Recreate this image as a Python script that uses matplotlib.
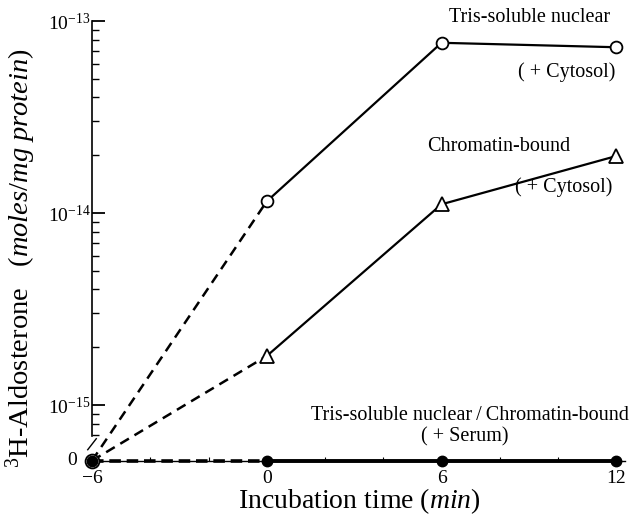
import numpy as np
import matplotlib
matplotlib.use("Agg")
import matplotlib.pyplot as plt
from matplotlib.ticker import FixedLocator, NullFormatter

plt.rcParams["font.family"] = ["Liberation Serif", "DejaVu Serif"]
plt.rcParams["mathtext.fontset"] = "custom"
plt.rcParams["mathtext.rm"] = "Liberation Serif"
plt.rcParams["mathtext.it"] = "Liberation Serif:italic"

# Incubation time (min) and bound 3H-aldosterone (moles/mg protein)
time_min = [-6, 0, 6, 12]
tris_cytosol = [0.0, 1.15e-14, 7.7e-14, 7.3e-14]
chromatin_cytosol = [0.0, 1.8e-15, 1.11e-14, 1.98e-14]
serum_both = [0.0, 0.0, 0.0, 0.0]

x_ticks = [-6, 0, 6, 12]
x_tick_labels = ["\u22126", "0", "6", "12"]
y_major = [1e-15, 1e-14, 1e-13]
y_major_labels = [r"$10^{-15}$", r"$10^{-14}$", r"$10^{-13}$"]

# Log axis with a break: zero sits a little below the lowest decade
ZERO_POS = -15.29


def fwd(y):
    y = np.asarray(y, dtype=float)
    return np.log10(np.maximum(y, 10.0 ** ZERO_POS))


def inv(v):
    return 10.0 ** np.asarray(v, dtype=float)


fig = plt.figure(figsize=(6.37, 5.15), dpi=100)
ax = fig.add_axes([92 / 637, 1 - 460.7 / 515, 533 / 637, 439.7 / 515])
ax.set_yscale("function", functions=(fwd, inv))
ax.set_xlim(-6, 12.3)
ax.set_ylim(0, 1e-13)

# Spines
for side in ("top", "right"):
    ax.spines[side].set_visible(False)
ax.spines["left"].set_bounds(6.9e-16, 1e-13)
ax.spines["left"].set_linewidth(1.2)
ax.spines["bottom"].set_linewidth(1.0)

# Ticks
ax.yaxis.set_major_locator(FixedLocator(y_major))
ax.set_yticklabels(y_major_labels)
minor = [k * 10.0 ** d for d in (-16, -15, -14) for k in range(2, 10)]
minor = [m for m in minor if 6.9e-16 < m < 1e-13]
ax.yaxis.set_minor_locator(FixedLocator(minor))
ax.yaxis.set_minor_formatter(NullFormatter())
ax.tick_params(axis="y", which="major", direction="in", length=9, width=1.3,
               labelsize=14, pad=1)
ax.tick_params(axis="y", which="minor", direction="in", length=5, width=1.0)

ax.set_xticks(x_ticks)
ax.set_xticklabels(x_tick_labels)
ax.xaxis.set_minor_locator(FixedLocator([-4, -2, 2, 4, 8, 10]))
ax.tick_params(axis="x", which="major", direction="in", length=0, labelsize=14, pad=7)
ax.tick_params(axis="x", which="minor", direction="in", length=3, width=0.8)

# Axis break mark on the y axis
ax.plot([-0.008, 0.008], [0.025, 0.05], transform=ax.transAxes, color="black",
        lw=1.0, clip_on=False)

# Serum series: dashed to the first sample, then solid
ax.plot(time_min[:2], serum_both[:2], color="black", lw=2.6,
        dashes=(3.2, 1.6), clip_on=False, zorder=3)
ax.plot(time_min[1:], serum_both[1:], color="black", lw=2.8,
        clip_on=False, zorder=3)
ax.plot(time_min, serum_both, "o", color="black", ms=7.5, clip_on=False, zorder=5)

# Cytosol series: dashed from zero time, solid afterwards
for vals, mk in ((tris_cytosol, "o"), (chromatin_cytosol, "^")):
    ax.plot(time_min[:2], vals[:2], color="black", lw=1.8,
            dashes=(4.0, 2.6), clip_on=False, zorder=3)
    ax.plot(time_min[1:], vals[1:], color="black", lw=1.6, clip_on=False, zorder=3)
    ax.plot(time_min[1:], vals[1:], mk, mfc="white", mec="black", mew=1.3,
            ms=8.5 if mk == "o" else 9.5, clip_on=False, zorder=6)

# shared starting point
ax.plot([time_min[0]], [tris_cytosol[0]], "o", mfc="white", mec="black", mew=1.3,
        ms=10, clip_on=False, zorder=4)

# zero label on the y axis
ax.annotate("0", xy=(-6, 0), xytext=(-11, 0), textcoords="offset points",
            ha="right", va="center", fontsize=14)

# Axis labels
ax.set_xlabel(r"Incubation time ($\mathit{min}$)", fontsize=20)
ax.xaxis.set_label_coords(0.501, -0.057)
ax.set_ylabel(r"$^{3}$H-Aldosterone   ($\mathit{moles/mg\ protein}$)", fontsize=20.5)
ax.yaxis.set_label_coords(-0.101, 0.46)

# Series annotations
ax.text(11.8, 1.04e-13, "Tris-soluble nuclear", ha="right", va="center", fontsize=14.5)
ax.text(11.97, 5.42e-14, "( + Cytosol)", ha="right", va="center", fontsize=14.5)
ax.text(10.43, 2.23e-14, "Chromatin-bound", ha="right", va="center", fontsize=14.5)
ax.text(11.87, 1.36e-14, "( + Cytosol)", ha="right", va="center", fontsize=14.5)
ax.text(12.42, 8.8e-16, "Tris-soluble nuclear\u2009/\u2009Chromatin-bound", ha="right",
        va="center", fontsize=14.5)
ax.text(6.8, 6.8e-16, "( + Serum)", ha="center", va="center", fontsize=14.5)

fig.savefig("out.png", dpi=100)
